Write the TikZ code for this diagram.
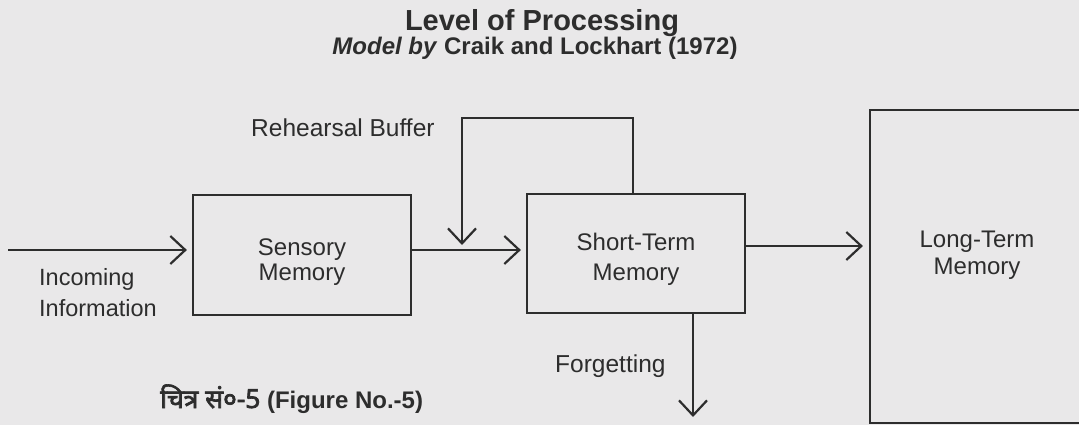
\documentclass[tikz,border=0pt]{standalone}
\usepackage{fontspec}
\setmainfont{Liberation Sans}
\newfontfamily\hindifont[Script=Devanagari,Scale=1.1,FakeBold=2.5]{Noto Sans}
\usetikzlibrary{arrows.meta}
\definecolor{ink}{RGB}{45,45,45}
\definecolor{paper}{RGB}{233,232,233}
\begin{document}
\begin{tikzpicture}[x=1pt,y=-1pt,
  box/.style={draw=ink,line width=2.2pt,rectangle,inner sep=0pt},
  lbl/.style={text=ink,inner sep=0pt,align=center},
  flow/.style={draw=ink,line width=2.2pt,-{Straight Barb[length=15pt,width=28pt]}}]
\useasboundingbox (0,0) rectangle (1079,425);
\fill[paper] (0,0) rectangle (1079,425);
\clip (0,0) rectangle (1079,425);

\node[lbl,anchor=base,font=\bfseries\fontsize{29}{34}\selectfont] (title) at (542,31) {Level of Processing};
\node[lbl,anchor=base,font=\bfseries\fontsize{24}{28}\selectfont] (sub) at (535,55) {\textit{Model by} Craik and Lockhart (1972)};

\node[box,minimum width=218pt,minimum height=120pt] (sm) at (302,255) {};
\node[box,minimum width=218pt,minimum height=119pt] (st) at (636,253.5) {};
\node[box,minimum width=214pt,minimum height=313pt] (lt) at (977,266.5) {};

\node[lbl,anchor=north,font=\fontsize{24}{25}\selectfont] (smt) at (302,238.5) {Sensory\\Memory};
\node[lbl,anchor=north,font=\fontsize{24}{30}\selectfont] (stt) at (636,232.5) {Short-Term\\Memory};
\node[lbl,anchor=north,font=\fontsize{24}{27}\selectfont] (ltt) at (977,230.5) {Long-Term\\Memory};
\node[lbl,anchor=north west,align=left,font=\fontsize{23.5}{31}\selectfont] (inc) at (39,268) {Incoming\\Information};
\node[lbl,anchor=base west,font=\fontsize{24.5}{28}\selectfont] (rb) at (251,137) {Rehearsal Buffer};
\node[lbl,anchor=base west,font=\fontsize{24.5}{28}\selectfont] (fg) at (555,372) {Forgetting};
\node[lbl,anchor=base west,font=\bfseries\fontsize{24}{28}\selectfont] (cap) at (160,408) {{\hindifont चित्र सं०-5} (Figure No.-5)};

\coordinate (src) at (8,250);
\coordinate (mid) at (0,250);
\coordinate (rbr) at (633,118);
\coordinate (rbtop) at (462,118);
\coordinate (rbin) at (462,245);
\coordinate (fgend) at (693,417);

\draw[flow,shorten >=5pt] (src) -- (sm.west |- src);
\draw[flow,shorten >=5pt] (sm.east |- mid) -- (st.west |- mid);
\draw[flow,shorten >=6pt] ([yshift=7.5pt]st.east) -- ([yshift=7.5pt]st.east -| lt.west);
\draw[flow] (st.north -| rbr) -- (rbr) -- (rbtop) -- (rbin);
\draw[flow] (st.south -| fgend) -- (fgend);
\end{tikzpicture}
\end{document}
